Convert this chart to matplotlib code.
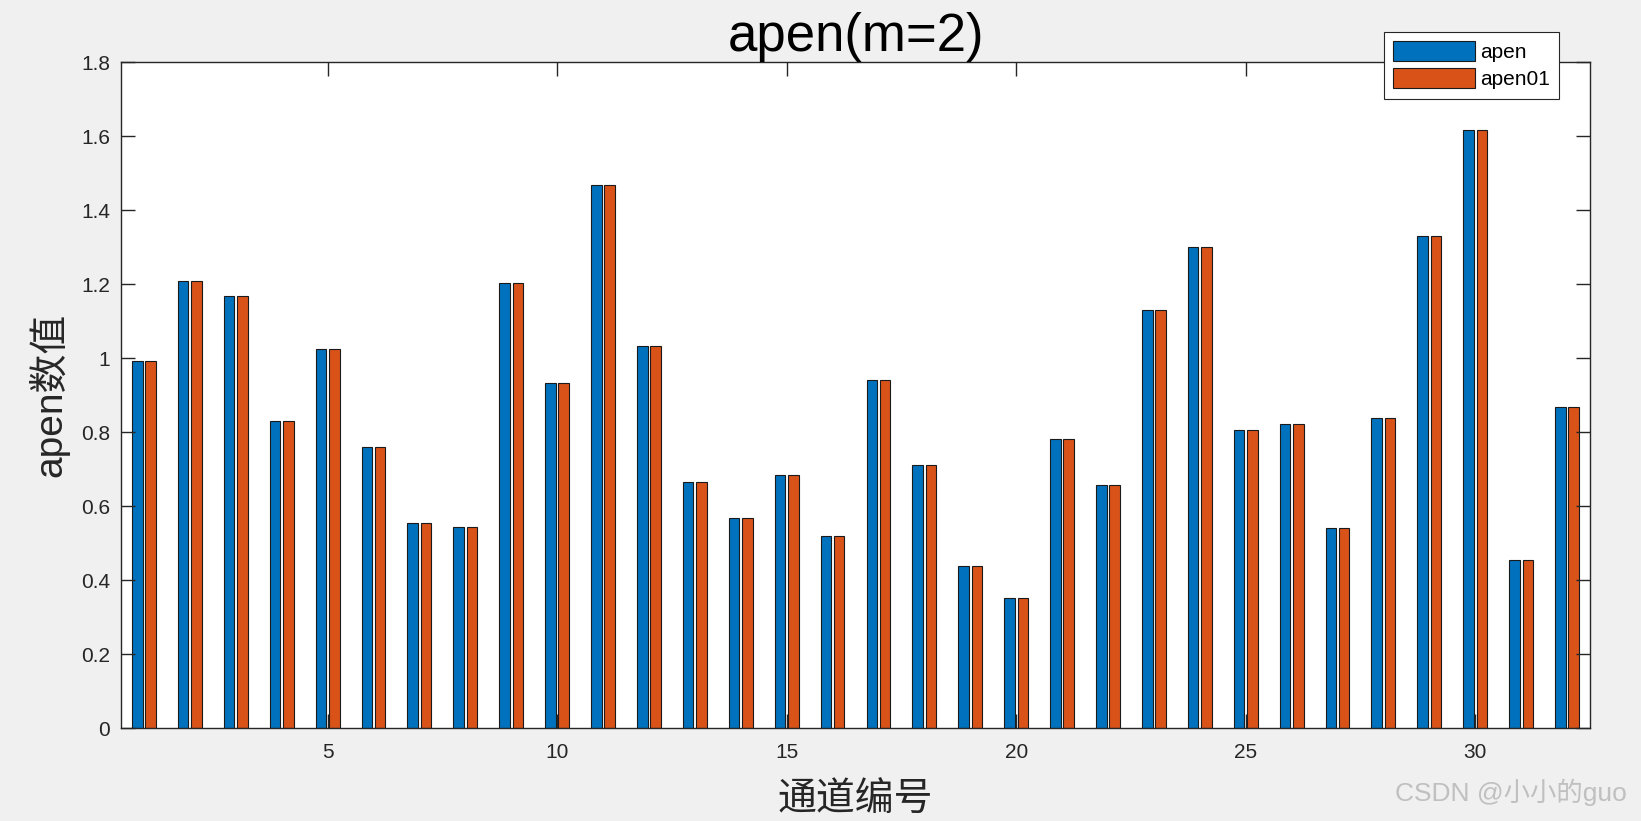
import numpy as np
import matplotlib
matplotlib.use('Agg')
import matplotlib.pyplot as plt

plt.rcParams['font.family'] = ['Liberation Sans', 'Noto Sans CJK SC', 'DejaVu Sans']

# 通道编号 1..32
channels = np.arange(1, 33)
apen = [0.992, 1.207, 1.168, 0.830, 1.023, 0.760, 0.553, 0.544,
        1.202, 0.933, 1.468, 1.032, 0.666, 0.567, 0.683, 0.519,
        0.941, 0.711, 0.439, 0.351, 0.782, 0.658, 1.131, 1.301,
        0.805, 0.822, 0.541, 0.839, 1.329, 1.616, 0.454, 0.867]
apen01 = list(apen)  # 两组数值相同
series_names = ['apen', 'apen01']
x_ticks = [5, 10, 15, 20, 25, 30]
y_ticks = [0, 0.2, 0.4, 0.6, 0.8, 1, 1.2, 1.4, 1.6, 1.8]
y_tick_labels = ['0', '0.2', '0.4', '0.6', '0.8', '1', '1.2', '1.4', '1.6', '1.8']

W, H = 1641, 821
fig = plt.figure(figsize=(W / 100, H / 100), dpi=100, facecolor='#f0f0f0')
ax = fig.add_axes([121 / W, 1 - 728 / H, (1590 - 121) / W, (728 - 62) / H])
ax.set_facecolor('white')

bw = 0.23
off = 0.145
ax.bar(channels - off, apen, bw, color='#0072BD', edgecolor='#1a1a1a', linewidth=0.8, label=series_names[0])
ax.bar(channels + off, apen01, bw, color='#D95319', edgecolor='#1a1a1a', linewidth=0.8, label=series_names[1])

ax.set_xlim(0.5, 32.5)
ax.set_ylim(0, 1.8)
ax.set_xticks(x_ticks)
ax.set_yticks(y_ticks)
ax.set_yticklabels(y_tick_labels)
for s in ax.spines.values():
    s.set_color('#262626')
    s.set_linewidth(1.0)
ax.tick_params(direction='in', length=10, width=1.0, colors='#262626',
               labelsize=15, top=True, right=True, pad=8)
ax.tick_params(axis='x', pad=11)

ax.set_title('apen(m=2)', fontsize=38, color='black', pad=8)
ax.set_xlabel('通道编号', fontsize=28, family=['Noto Sans CJK SC'], color='#262626', labelpad=12)
ax.set_ylabel('apen数值', fontsize=28, family=['Liberation Sans', 'Noto Sans CJK SC'], color='#262626', labelpad=8)

leg = ax.legend(loc='upper right', bbox_to_anchor=(0.979, 1.045), fontsize=15,
                frameon=True, fancybox=False, framealpha=1, edgecolor='#262626',
                handlelength=3.9, handleheight=1.05, borderpad=0.45,
                labelspacing=0.3, handletextpad=0.25, borderaxespad=0)
leg.get_frame().set_linewidth(0.8)
leg.set_zorder(5)

fig.text(1627 / W, 1 - 792 / H, 'CSDN @小小的guo', ha='right', va='center', fontsize=19,
         color='#c0c0c0', family=['Liberation Sans', 'Noto Sans CJK SC'])

fig.savefig('out.png', dpi=100, facecolor=fig.get_facecolor())
